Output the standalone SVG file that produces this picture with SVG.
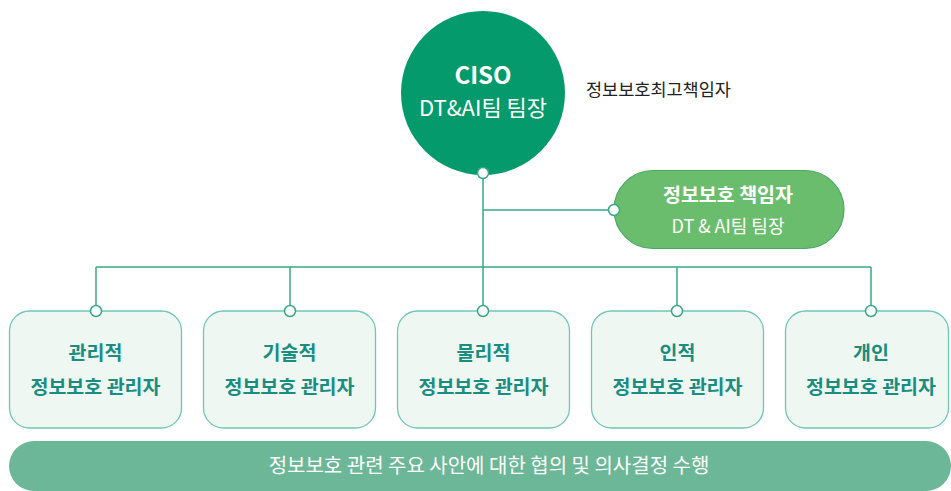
<svg xmlns="http://www.w3.org/2000/svg" width="951" height="491" viewBox="0 0 951 491">
<style>
text{font-family:"Noto Sans CJK KR","Noto Sans",sans-serif;text-anchor:middle}
.box{fill:#eef7f2;stroke:#72c6b6;stroke-width:1.3}
.bt{fill:#1b8c80;font-size:19.5px;font-weight:700}
.line{stroke:#3aa886;stroke-width:1.5;fill:none}
.dot{fill:#fff;stroke:#3aa886;stroke-width:1.5}
.w{fill:#fff}
</style>
<rect width="951" height="491" fill="#fff"/>
<g id="connectors">
<path class="line" d="M483 173V311M483 210H614M96 267H871M96 267V311M290 267V311M677 267V311M871 267V311"/>
</g>
<g id="ciso">
<circle cx="483" cy="93" r="82" fill="#049a6b"/>
<text class="w" x="483" y="83.5" font-size="24" font-weight="700">CISO</text>
<text class="w" x="483" y="116" font-size="22">DT&amp;AI팀 팀장</text>
<circle class="dot" cx="483" cy="173" r="5.5"/>
</g>
<g id="ciso-label">
<text x="586" y="96" font-size="17.5" fill="#222" style="text-anchor:start">정보보호최고책임자</text>
</g>
<g id="officer">
<rect x="614" y="170.5" width="230" height="78" rx="39" fill="#6bbd6e" stroke="#4aa866" stroke-width="1.2"/>
<text class="w" x="728" y="202" font-size="19.5" font-weight="700">정보보호 책임자</text>
<text class="w" x="728" y="233" font-size="18">DT &amp; AI팀 팀장</text>
<circle class="dot" cx="614" cy="210" r="5.5"/>
</g>
<g id="mgr1">
<rect class="box" x="9.5" y="311" width="172" height="117" rx="20"/>
<text class="bt" x="95.5" y="360">관리적</text>
<text class="bt" x="95.5" y="394">정보보호 관리자</text>
<circle class="dot" cx="96" cy="311" r="5.5"/>
</g>
<g id="mgr2">
<rect class="box" x="203.5" y="311" width="172" height="117" rx="20"/>
<text class="bt" x="289.5" y="360">기술적</text>
<text class="bt" x="289.5" y="394">정보보호 관리자</text>
<circle class="dot" cx="290" cy="311" r="5.5"/>
</g>
<g id="mgr3">
<rect class="box" x="397.5" y="311" width="172" height="117" rx="20"/>
<text class="bt" x="483.5" y="360">물리적</text>
<text class="bt" x="483.5" y="394">정보보호 관리자</text>
<circle class="dot" cx="483" cy="311" r="5.5"/>
</g>
<g id="mgr4">
<rect class="box" x="591.5" y="311" width="172" height="117" rx="20"/>
<text class="bt" x="677.5" y="360">인적</text>
<text class="bt" x="677.5" y="394">정보보호 관리자</text>
<circle class="dot" cx="677" cy="311" r="5.5"/>
</g>
<g id="mgr5">
<rect class="box" x="785.5" y="311" width="163" height="117" rx="20"/>
<text class="bt" x="871" y="360">개인</text>
<text class="bt" x="871" y="394">정보보호 관리자</text>
<circle class="dot" cx="871" cy="311" r="5.5"/>
</g>
<g id="council">
<rect x="9" y="441" width="942" height="50" rx="25" fill="#6cb797"/>
<text class="w" x="489" y="473" font-size="20">정보보호 관련 주요 사안에 대한 협의 및 의사결정 수행</text>
</g>
</svg>
